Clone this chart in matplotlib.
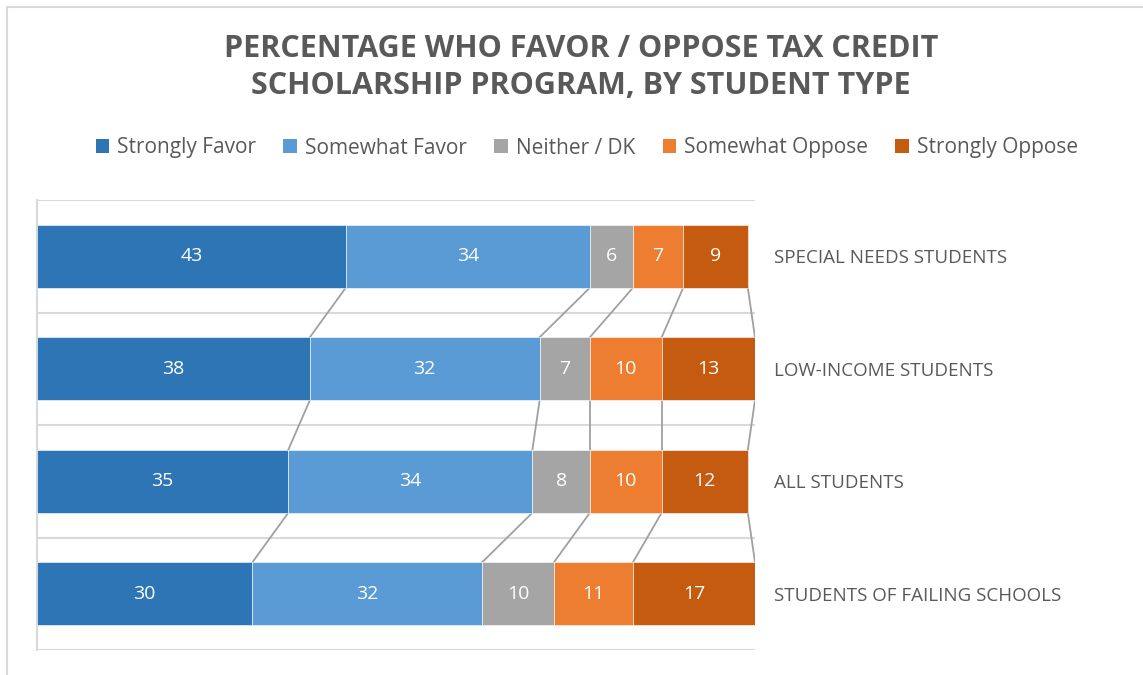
import numpy as np
import matplotlib.pyplot as plt
from matplotlib.patches import Rectangle, Patch

plt.rcParams['font.family'] = ['Open Sans', 'DejaVu Sans']

categories = ["SPECIAL NEEDS STUDENTS", "LOW-INCOME STUDENTS", "ALL STUDENTS",
              "STUDENTS OF FAILING SCHOOLS"]
series = ["Strongly Favor", "Somewhat Favor", "Neither / DK",
          "Somewhat Oppose", "Strongly Oppose"]
strongly_favor = [43, 38, 35, 30]
somewhat_favor = [34, 32, 34, 32]
neither_dk = [6, 7, 8, 10]
somewhat_oppose = [7, 10, 10, 11]
strongly_oppose = [9, 13, 12, 17]

colors = ['#2E75B6', '#5B9BD5', '#A5A5A5', '#ED7D31', '#C55A11']
text_grey = '#595959'
grid_grey = '#d9d9d9'

values = np.array([strongly_favor, somewhat_favor, neither_dk,
                   somewhat_oppose, strongly_oppose], dtype=float)

W, H = 1143, 675
fig = plt.figure(figsize=(W / 100, H / 100), dpi=100)

# chart frame
fig.patches.append(Rectangle((7 / W, -0.01), 1.02, 1 - 7 / H + 0.01,
                             transform=fig.transFigure, fill=False,
                             edgecolor=grid_grey, linewidth=1.5))

ax = fig.add_axes([37 / W, 25 / H, 718 / W, 450 / H])

n = len(categories)
ypos = np.arange(n)[::-1]          # first category at top
bar_h = 0.56

left = np.zeros(n)
for i, name in enumerate(series):
    ax.barh(ypos, values[i], left=left, height=bar_h, color=colors[i],
            edgecolor='white', linewidth=0.4, label=name, zorder=3)
    for y, l, v in zip(ypos, left, values[i]):
        ax.text(l + v / 2, y, f"{v:.0f}", ha='center', va='center',
                color='white', fontsize=14, zorder=4)
    left = left + values[i]

# series lines between neighbouring bars
cum = np.cumsum(values, axis=0)
for row in cum:
    for k in range(n - 1):
        ax.plot([row[k], row[k + 1]],
                [ypos[k] - bar_h / 2, ypos[k + 1] + bar_h / 2],
                color='#a0a0a0', linewidth=1.3, zorder=2)

# category separators
for b in np.arange(-0.5, n, 1.0):
    ax.axhline(b, color=grid_grey, linewidth=1.5, zorder=1)

ax.set_xlim(0, 100)
ax.set_ylim(-0.5, n - 0.5)
ax.xaxis.set_visible(False)
for s in ['top', 'right', 'bottom']:
    ax.spines[s].set_visible(False)
ax.spines['left'].set_color(grid_grey)
ax.spines['left'].set_linewidth(1.5)

ax.yaxis.tick_right()
ax.set_yticks(ypos)
ax.set_yticklabels(categories)
ax.tick_params(axis='y', length=0, pad=14, labelsize=13.5,
               labelcolor=text_grey)

fig.text(581 / W, 1 - 67.5 / H,
         "PERCENTAGE WHO FAVOR / OPPOSE TAX CREDIT\nSCHOLARSHIP PROGRAM, BY STUDENT TYPE",
         ha='center', va='center', fontsize=22, fontweight='bold',
         color=text_grey, linespacing=1.3)

handles = [Patch(facecolor=c, edgecolor='none') for c in colors]
fig.legend(handles, series, loc='center', bbox_to_anchor=(587 / W, 1 - 148 / H),
           ncol=5, frameon=False, fontsize=15, labelcolor=text_grey,
           handlelength=0.65, handleheight=0.65, handletextpad=0.4,
           columnspacing=1.3)

fig.savefig('out.png', dpi=100)
